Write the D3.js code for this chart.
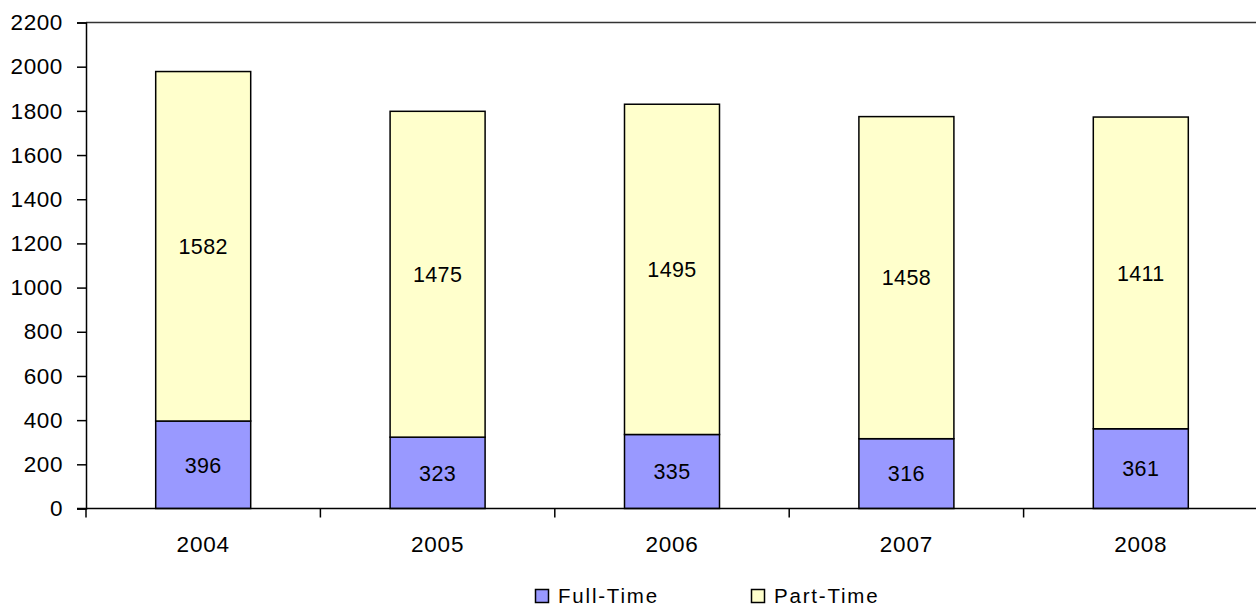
<!DOCTYPE html>
<html>
<head>
<meta charset="utf-8">
<script src="https://cdn.jsdelivr.net/npm/d3@7/dist/d3.min.js"></script>
<style>
  html, body { margin: 0; padding: 0; background: #fff; }
  svg { display: block; font-family: "Liberation Sans", Arial, sans-serif; }
</style>
</head>
<body>
<svg id="chart" width="1256" height="607"></svg>
<script>
const years = ["2004", "2005", "2006", "2007", "2008"];
const fullTime = [396, 323, 335, 316, 361];
const partTime = [1582, 1475, 1495, 1458, 1411];
const seriesNames = ["Full-Time", "Part-Time"];
const seriesColors = ["#9999FF", "#FFFFCC"];
const yTicks = [0, 200, 400, 600, 800, 1000, 1200, 1400, 1600, 1800, 2000, 2200];

const svg = d3.select("#chart");
const mLeft = 86, mRight = 1258, mTop = 22.5, mBottom = 508.5;

const x = d3.scaleBand().domain(years).range([mLeft, mRight]).paddingInner(0).paddingOuter(0);
const y = d3.scaleLinear().domain([0, 2200]).range([mBottom, mTop]);
const barW = 95;

const rows = years.map((yr, i) => ({ year: yr, full: fullTime[i], part: partTime[i] }));
const stack = d3.stack().keys(["full", "part"])(rows);

// top border of plot
svg.append("line").attr("x1", mLeft).attr("x2", 1256).attr("y1", mTop).attr("y2", mTop)
  .attr("stroke", "#333").attr("stroke-width", 1.5);

// y axis
const yAxis = svg.append("g").attr("transform", `translate(${mLeft},0)`)
  .call(d3.axisLeft(y).tickValues(yTicks).tickSize(9).tickPadding(14).tickFormat(d3.format("d")));
yAxis.select(".domain").attr("stroke", "#000").attr("stroke-width", 1.5);
yAxis.selectAll(".tick line").attr("stroke", "#000").attr("stroke-width", 1.5);
yAxis.selectAll("text").attr("font-size", 22.5).attr("letter-spacing", 0.6)
  .attr("font-family", "Liberation Sans, Arial, sans-serif").attr("fill", "#000");

// bars
stack.forEach((layer, li) => {
  svg.append("g").selectAll("rect").data(layer).join("rect")
    .attr("x", d => x(d.data.year) + x.bandwidth() / 2 - barW / 2)
    .attr("width", barW)
    .attr("y", d => y(d[1]))
    .attr("height", d => y(d[0]) - y(d[1]))
    .attr("fill", seriesColors[li])
    .attr("stroke", "#000").attr("stroke-width", 1.5);
  svg.append("g").selectAll("text").data(layer).join("text")
    .attr("x", d => x(d.data.year) + x.bandwidth() / 2)
    .attr("y", d => y((d[0] + d[1]) / 2))
    .attr("dy", "0.36em")
    .attr("text-anchor", "middle")
    .attr("font-size", 21.5).attr("letter-spacing", 0.4)
    .text(d => d[1] - d[0]);
});

// x axis
const xAxis = svg.append("g").attr("transform", `translate(0,${mBottom})`)
  .call(d3.axisBottom(x).tickSize(0).tickPadding(28));
xAxis.select(".domain").remove();
svg.append("line").attr("x1", mLeft - 9).attr("x2", 1256).attr("y1", mBottom).attr("y2", mBottom)
  .attr("stroke", "#000").attr("stroke-width", 1.5);
svg.append("g").selectAll("line").data(years).join("line")
  .attr("x1", d => x(d)).attr("x2", d => x(d))
  .attr("y1", mBottom).attr("y2", mBottom + 9)
  .attr("stroke", "#000").attr("stroke-width", 1.5);
xAxis.selectAll("text").attr("font-size", 22.5).attr("letter-spacing", 0.8)
  .attr("font-family", "Liberation Sans, Arial, sans-serif").attr("fill", "#000");

// legend
const legendX = [535, 751];
const lg = svg.append("g");
seriesNames.forEach((name, i) => {
  lg.append("rect").attr("x", legendX[i] + 0.5).attr("y", 589.5).attr("width", 13).attr("height", 13)
    .attr("fill", seriesColors[i]).attr("stroke", "#000").attr("stroke-width", 1.5);
  lg.append("text").attr("x", legendX[i] + 23).attr("y", 602.5)
    .attr("font-size", 20.5).attr("letter-spacing", 1.8).text(name);
});
</script>
</body>
</html>
